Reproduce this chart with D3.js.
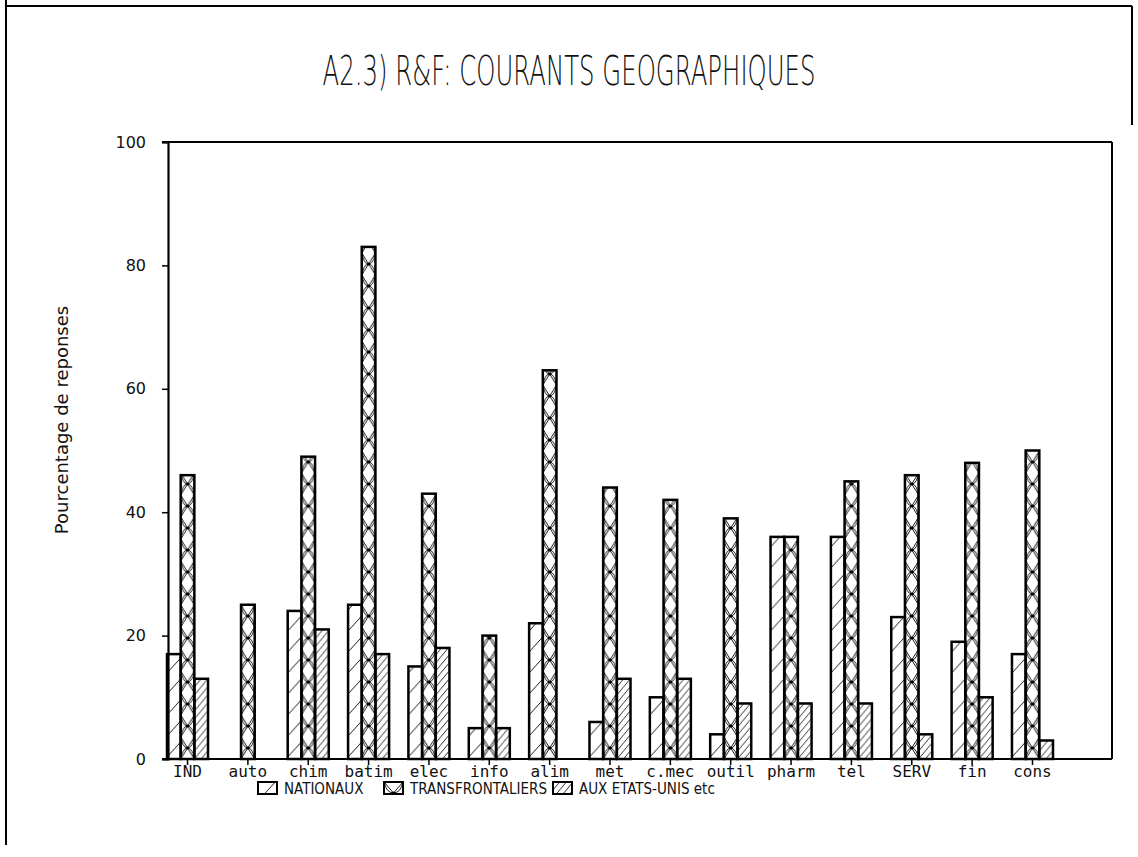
<!DOCTYPE html>
<html>
<head>
<meta charset="utf-8">
<script src="https://cdn.jsdelivr.net/npm/d3@7"></script>
<style>
  body { margin: 0; background: #fff; }
  svg { display: block; }
</style>
</head>
<body>
<div id="chart"></div>
<script>
// Chart data
const categories = ['IND', 'auto', 'chim', 'batim', 'elec', 'info', 'alim', 'met',
                    'c.mec', 'outil', 'pharm', 'tel', 'SERV', 'fin', 'cons'];
const nationaux        = [17, 0, 24, 25, 15, 5, 22, 6, 10, 4, 36, 36, 23, 19, 17];
const transfrontaliers = [46, 25, 49, 83, 43, 20, 63, 44, 42, 39, 36, 45, 46, 48, 50];
const etatsUnis        = [13, 0, 21, 17, 18, 5, 0, 13, 13, 9, 9, 9, 4, 10, 3];
const seriesNames = ['NATIONAUX', 'TRANSFRONTALIERS', 'AUX ETATS-UNIS etc'];
const yTicks = [0, 20, 40, 60, 80, 100];

const width = 1138, height = 857;
const plot = { left: 168, right: 1112, top: 142, bottom: 759 };

const svg = d3.select('#chart').append('svg')
    .attr('width', width)
    .attr('height', height);
const defs = svg.append('defs');

// scales
const x = d3.scaleBand()
    .domain(categories)
    .range([167, 1053])
    .paddingInner(0.32)
    .paddingOuter(0)
    .align(0);
const xs = d3.scaleBand()
    .domain([0, 1, 2])
    .range([0, x.bandwidth()]);
const y = d3.scaleLinear()
    .domain([0, 100])
    .range([plot.bottom, plot.top]);

// hatch patterns; a tile is one category step wide so each bar lines up with its fill
const kinds = ['nat', 'trans', 'us'];
const tileH = { nat: 21, trans: 22, us: 8 };

function addPattern(id, kind, x0, y0, tileW, offX, w) {
    const h = tileH[kind];
    const p = defs.append('pattern')
        .attr('id', id)
        .attr('patternUnits', 'userSpaceOnUse')
        .attr('x', x0)
        .attr('y', y0)
        .attr('width', tileW)
        .attr('height', h);
    const g = p.append('g')
        .attr('transform', `translate(${offX},0)`)
        .attr('stroke', '#000')
        .attr('fill', 'none');
    if (kind === 'nat') {
        [-1, 0, 1].forEach(k => {
            g.append('line')
                .attr('x1', 0).attr('y1', h - 2 + k * h)
                .attr('x2', w).attr('y2', h - 2 - w * 1.1 + k * h)
                .attr('stroke-width', 0.9);
        });
    } else if (kind === 'trans') {
        g.append('line').attr('x1', 0).attr('y1', 0).attr('x2', w).attr('y2', h).attr('stroke-width', 0.9);
        g.append('line').attr('x1', w).attr('y1', 0).attr('x2', 0).attr('y2', h).attr('stroke-width', 0.9);
        [0, h].forEach(cy => {
            g.append('ellipse')
                .attr('cx', w / 2).attr('cy', cy)
                .attr('rx', w / 2 - 0.6).attr('ry', h / 2)
                .attr('stroke-width', 0.9);
        });
        g.append('circle').attr('cx', w / 2).attr('cy', h / 2).attr('r', 1.6)
            .attr('fill', '#000').attr('stroke', 'none');
    } else {
        [-2, -1, 0, 1, 2].forEach(k => {
            g.append('line')
                .attr('x1', 0).attr('y1', h + k * h)
                .attr('x2', w).attr('y2', h - w * 1.2 + k * h)
                .attr('stroke-width', 0.8);
        });
    }
}

// bars sit inside groups translated to x(cat), so the tile origin is 0 there
kinds.forEach((kind, i) => {
    addPattern('pat-' + kind, kind, 0, y(0), x.step(), xs(i), xs.bandwidth());
});

// outer frame of the scanned page
const frame = svg.append('g').attr('stroke', '#000').attr('stroke-width', 2).attr('fill', 'none');
frame.append('line').attr('x1', 6).attr('y1', 0).attr('x2', 6).attr('y2', 845);
frame.append('line').attr('x1', 6).attr('y1', 6).attr('x2', 1132).attr('y2', 6);
frame.append('line').attr('x1', 1132).attr('y1', 6).attr('x2', 1132).attr('y2', 125);

// title
svg.append('text')
    .attr('x', 569)
    .attr('y', 85)
    .attr('text-anchor', 'middle')
    .attr('textLength', 493)
    .attr('lengthAdjust', 'spacingAndGlyphs')
    .style('font-family', '"DejaVu Sans", sans-serif')
    .style('font-weight', 200)
    .style('font-size', '40px')
    .style('fill', '#111')
    .text('A2.3) R&F: COURANTS GEOGRAPHIQUES');

// plot box
const box = svg.append('g').attr('stroke', '#000').attr('fill', 'none').attr('stroke-width', 2);
box.append('line').attr('x1', plot.left - 6).attr('y1', plot.top).attr('x2', plot.right).attr('y2', plot.top);
box.append('line').attr('x1', plot.right).attr('y1', plot.top).attr('x2', plot.right).attr('y2', plot.bottom);

// bars
const seriesValues = [nationaux, transfrontaliers, etatsUnis];
const barGroups = svg.selectAll('.group')
    .data(categories)
    .enter()
    .append('g')
    .attr('class', 'group')
    .attr('transform', d => `translate(${x(d)},0)`);

barGroups.each(function(cat, ci) {
    const g = d3.select(this);
    seriesValues.forEach((vals, si) => {
        const v = vals[ci];
        if (v <= 0) return;
        g.append('rect')
            .attr('x', xs(si))
            .attr('y', y(v))
            .attr('width', xs.bandwidth())
            .attr('height', y(0) - y(v))
            .attr('fill', `url(#pat-${kinds[si]})`)
            .attr('stroke', '#000')
            .attr('stroke-width', 2.5);
    });
});

// y axis
const yAxis = d3.axisLeft(y)
    .tickValues(yTicks)
    .tickSize(6)
    .tickPadding(16);
const yg = svg.append('g')
    .attr('transform', `translate(${plot.left},0)`)
    .call(yAxis);
yg.select('.domain').attr('stroke-width', 2.2);
yg.selectAll('.tick line').attr('stroke-width', 1.5);
yg.selectAll('.tick text')
    .style('font-family', '"DejaVu Sans", sans-serif')
    .style('font-size', '16px')
    .style('fill', '#111');

// x axis
const xAxis = d3.axisBottom(x)
    .tickSize(6)
    .tickPadding(1)
    .tickSizeOuter(0);
const xg = svg.append('g')
    .attr('transform', `translate(0,${plot.bottom})`)
    .call(xAxis);
xg.select('.domain').remove();
xg.append('line')
    .attr('x1', plot.left - 6).attr('x2', plot.right)
    .attr('stroke', '#000').attr('stroke-width', 2.2);
xg.selectAll('.tick line').attr('stroke-width', 1.5);
xg.selectAll('.tick text')
    .style('font-family', '"DejaVu Sans Mono", monospace')
    .style('font-size', '16px')
    .style('fill', '#111');

// y axis title
svg.append('text')
    .attr('transform', 'translate(68,420) rotate(-90)')
    .attr('text-anchor', 'middle')
    .style('font-family', '"DejaVu Sans", sans-serif')
    .style('font-size', '18px')
    .style('fill', '#111')
    .text('Pourcentage de reponses');

// legend
const legendX = [258, 384, 553];
const legend = svg.append('g').attr('class', 'legend');
seriesNames.forEach((name, i) => {
    const sx = legendX[i], sy = 782, sw = 19, sh = 12;
    addPattern('leg-' + kinds[i], kinds[i], sx, sy, sw, 0, sw);
    legend.append('rect')
        .attr('x', sx).attr('y', sy)
        .attr('width', sw).attr('height', sh)
        .attr('fill', `url(#leg-${kinds[i]})`)
        .attr('stroke', '#000')
        .attr('stroke-width', 2);
    legend.append('text')
        .attr('x', sx + sw + 7)
        .attr('y', sy + sh)
        .style('font-family', '"DejaVu Sans Condensed", "DejaVu Sans", sans-serif')
        .style('font-size', '15px')
        .style('fill', '#111')
        .text(name);
});
</script>
</body>
</html>
